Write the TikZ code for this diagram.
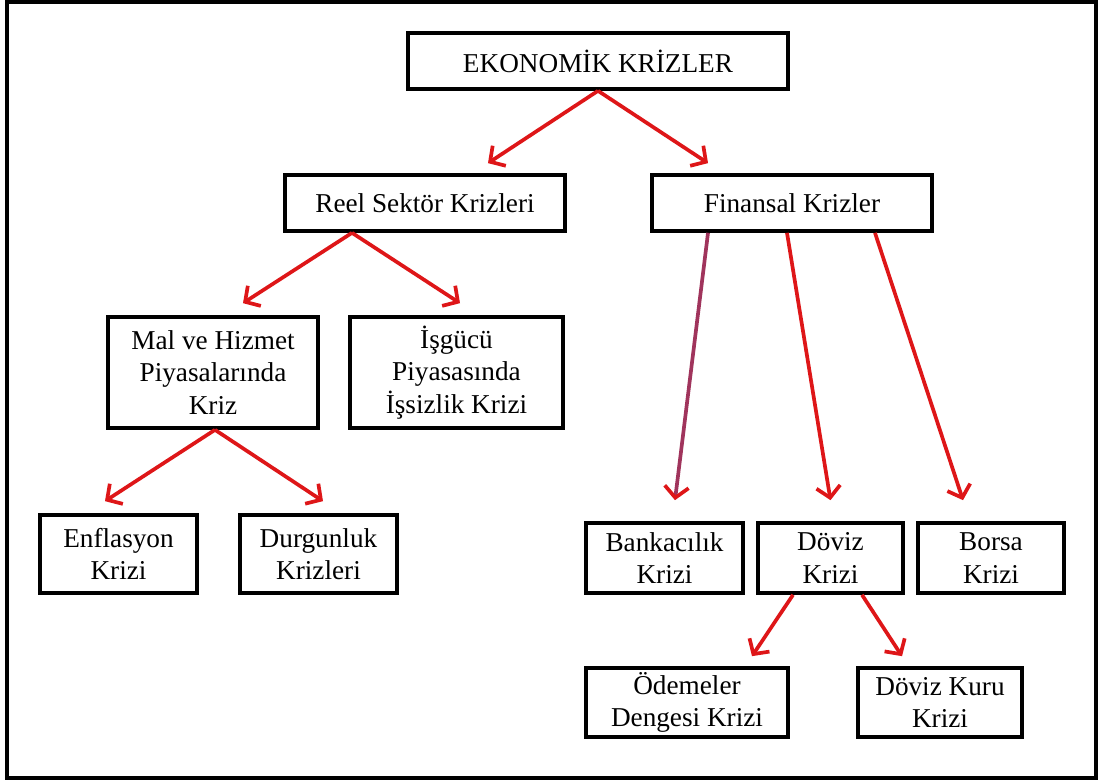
\documentclass[tikz,border=0pt]{standalone}
\usepackage{fontspec}
\setmainfont{Liberation Serif}
\usepackage{tikz}
\usetikzlibrary{arrows.meta, positioning}

\definecolor{arrowred}{RGB}{222,22,24}
\definecolor{plumred}{RGB}{160,52,92}

\begin{document}
\begin{tikzpicture}[
		x=0.02cm, y=-0.02cm,
		crisisbox/.style={
			rectangle,
			draw=black,
			line width=2.1pt,
			inner sep=0pt,
			align=center,
			font=\fontsize{15.5}{18.5}\selectfont
		},
		arrow/.style={
			arrowred,
			line width=2.1pt,
			-{Straight Barb[length=2.2mm, width=4.8mm, color=arrowred]},
		}
	]
	
	\useasboundingbox (0,0) rectangle (1099,780);
	\draw[line width=2.4pt] (7,2) rectangle (1096,778);
	
	\node[crisisbox, minimum width=7.6cm, minimum height=1.12cm] (eko) at (598,61) {EKONOMİK KRİZLER};
	\node[crisisbox, minimum width=5.6cm, minimum height=1.12cm] (reel) at (425,203) {Reel Sektör Krizleri};
	\node[crisisbox, minimum width=5.6cm, minimum height=1.12cm] (fin) at (792,203) {Finansal Krizler};
	
	\node[crisisbox, minimum width=4.2cm, minimum height=2.22cm] (mal) at (213,372.5) {Mal ve Hizmet\\Piyasalarında\\Kriz};
	\node[crisisbox, minimum width=4.26cm, minimum height=2.22cm] (isgucu) at (456.5,372.5) {İşgücü\\Piyasasında\\İşsizlik Krizi};
	\node[crisisbox, minimum width=3.14cm, minimum height=1.56cm] (enf) at (118.5,554) {Enflasyon\\Krizi};
	\node[crisisbox, minimum width=3.14cm, minimum height=1.56cm] (durg) at (318.5,554) {Durgunluk\\Krizleri};
	
	\node[crisisbox, minimum width=3.14cm, minimum height=1.4cm] (bank) at (664.5,558) {Bankacılık\\Krizi};
	\node[crisisbox, minimum width=2.9cm, minimum height=1.4cm] (doviz) at (830.5,558) {Döviz\\Krizi};
	\node[crisisbox, minimum width=2.92cm, minimum height=1.4cm] (borsa) at (991,558) {Borsa\\Krizi};
	\node[crisisbox, minimum width=4.04cm, minimum height=1.38cm] (odeme) at (687,702.5) {Ödemeler\\Dengesi Krizi};
	\node[crisisbox, minimum width=3.28cm, minimum height=1.38cm] (kur) at (940,702.5) {Döviz Kuru\\Krizi};
	
	% top level
	\draw[arrow] (eko.south) -- ([xshift=1.26cm, yshift=0.2cm]reel.north);
	\draw[arrow] (eko.south) -- ([xshift=-1.68cm, yshift=0.2cm]fin.north);
	
	% real sector
	\draw[arrow] ([xshift=-1.46cm]reel.south) -- ([xshift=0.6cm, yshift=0.24cm]mal.north);
	\draw[arrow] ([xshift=-1.46cm]reel.south) -- ([xshift=0.07cm, yshift=0.24cm]isgucu.north);
	\draw[arrow] ([xshift=0.04cm]mal.south) -- ([xshift=-0.27cm, yshift=0.24cm]enf.north);
	\draw[arrow] ([xshift=0.04cm]mal.south) -- ([xshift=0.09cm, yshift=0.24cm]durg.north);
	
	% financial
	\draw[arrow, plumred] ([xshift=-1.68cm]fin.south) -- ([xshift=0.21cm, yshift=0.42cm]bank.north);
	\draw[arrow] ([xshift=-0.1cm]fin.south) -- ([yshift=0.42cm]doviz.north);
	\draw[arrow] ([xshift=1.66cm]fin.south) -- ([xshift=-0.56cm, yshift=0.42cm]borsa.north);
	\draw[arrow] ([xshift=-0.75cm]doviz.south) -- ([xshift=1.3cm, yshift=0.2cm]odeme.north);
	\draw[arrow] ([xshift=0.63cm]doviz.south) -- ([xshift=-0.76cm, yshift=0.2cm]kur.north);
	
\end{tikzpicture}
\end{document}
